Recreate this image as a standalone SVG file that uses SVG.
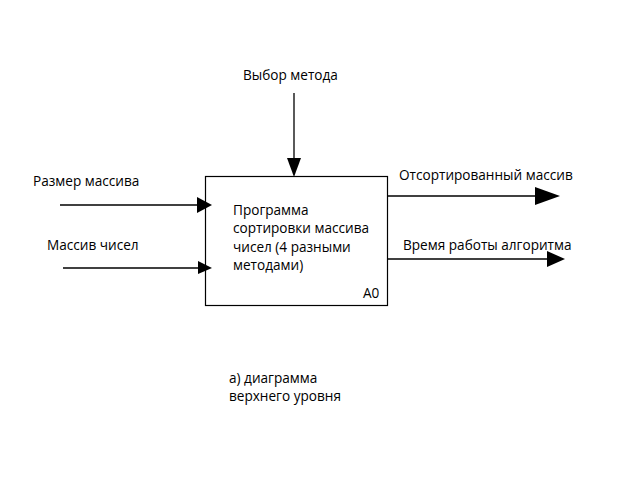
<svg xmlns="http://www.w3.org/2000/svg" width="628" height="487" viewBox="0 0 628 487">
<style>
text{font-family:"Open Sans","Liberation Sans",sans-serif;font-size:13.6px;fill:#000}
.ln{stroke:#000;stroke-width:1.3;fill:none}
.ah{fill:#000}
</style>
<rect width="628" height="487" fill="#fff"/>
<g id="node-A0">
<rect x="205.5" y="176.5" width="182" height="129" fill="#fff" stroke="#000" stroke-width="1.2"/>
<text x="233" y="215">Программа</text>
<text x="233" y="233">сортировки массива</text>
<text x="233" y="252">чисел (4 разными</text>
<text x="233" y="270">методами)</text>
<text x="363" y="298">A0</text>
</g>
<g id="labels">
<text x="243" y="80">Выбор метода</text>
<text x="33" y="186">Размер массива</text>
<text x="47" y="250">Массив чисел</text>
<text x="399" y="180">Отсортированный массив</text>
<text x="403" y="250">Время работы алгоритма</text>
<text x="229" y="383">а) диаграмма</text>
<text x="229" y="401">верхнего уровня</text>
</g>
<g id="connectors">
<line class="ln" x1="294" y1="93" x2="294" y2="170"/>
<polygon class="ah" points="287,158 301,158 294,177"/>
<line class="ln" x1="60" y1="205" x2="200" y2="205"/>
<polygon class="ah" points="197,197 197,213 212,205"/>
<line class="ln" x1="63" y1="268" x2="200" y2="268"/>
<polygon class="ah" points="198,261 198,274 212,268"/>
<line class="ln" x1="387" y1="196" x2="540" y2="196"/>
<polygon class="ah" points="535,187 535,205 560,196"/>
<line class="ln" x1="387" y1="259" x2="550" y2="259"/>
<polygon class="ah" points="547,251 547,267 565,259"/>
</g>
</svg>
